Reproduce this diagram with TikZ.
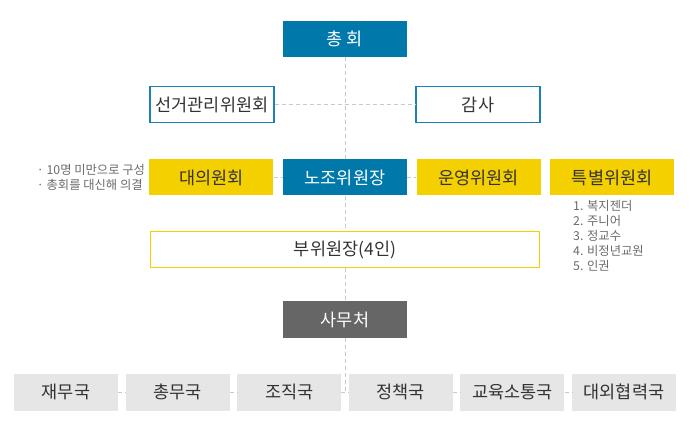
\documentclass[tikz,border=0pt]{standalone}
\usepackage{fontspec}
\setmainfont{Noto Sans CJK KR}
\usetikzlibrary{positioning, math}

\definecolor{unionBlue}{HTML}{0078AA}
\definecolor{lineBlue}{HTML}{1A80B6}
\definecolor{unionYellow}{HTML}{F5D000}
\definecolor{deptGray}{HTML}{E6E6E6}
\definecolor{officeGray}{HTML}{666666}
\definecolor{dashGray}{HTML}{C8C8C8}
\definecolor{textDark}{HTML}{333333}
\definecolor{noteGray}{HTML}{6A6A6A}

\begin{document}
\begin{tikzpicture}[
		x=1pt, y=-1pt,
		every node/.style={inner sep=0pt},
		Link/.style={
			draw=dashGray,
			dash pattern=on 4pt off 3pt,
			line width=0.9pt
		}
	]
	\tikzmath{
		\nodeW   = 124;   %box width
		\nodeH   = 36;    %box height
		\deptW   = 104;   %department box width
		\colGap  = 9.2;   %gap in the committee row
		\deptGap = 7.2;   %gap in the department row
	}
	\tikzstyle{Node} = [
		minimum width=\nodeW pt,
		minimum height=\nodeH pt,
		text centered,
		text=textDark,
		font=\fontsize{17.5}{20}\selectfont
	]
	\tikzstyle{Blue} = [fill=unionBlue, text=white]
	\tikzstyle{BlueLine} = [fill=white, draw=lineBlue, line width=1.3pt]
	\tikzstyle{Yellow} = [fill=unionYellow]
	\tikzstyle{YellowLine} = [fill=white, draw=unionYellow, line width=1.3pt]
	\tikzstyle{Dept} = [Node, minimum width=\deptW pt, minimum height=36.5pt, fill=deptGray]
	\tikzstyle{Note} = [align=left, text=noteGray, font=\fontsize{12.3}{15.2}\selectfont]

	\useasboundingbox (0,0) rectangle (690,435);

	% main column
	\node (gm) [Node, Blue] at (345,39) {총 회};
	\node (elect) [Node, BlueLine] at (212,104.5) {선거관리위원회};
	\node (audit) [Node, BlueLine] at (478,104.5) {감사};
	\node (chair) [Node, Blue] at (345,177.5) {노조위원장};
	\node (rep) [Node, Yellow, left=\colGap pt of chair] {대의원회};
	\node (oper) [Node, Yellow, right=\colGap pt of chair] {운영위원회};
	\node (spec) [Node, Yellow, right=\colGap pt of oper] {특별위원회};
	\node (vice) [Node, YellowLine, minimum width=389pt] at (345,249.5) {부위원장(4인)};
	\node (office) [Node, fill=officeGray, text=white] at (345,319.5) {사무처};

	% departments
	\node (d1) [Dept] at (66,392.3) {재무국};
	\node (d2) [Dept, right=\deptGap pt of d1] {총무국};
	\node (d3) [Dept, right=\deptGap pt of d2] {조직국};
	\node (d4) [Dept, right=\deptGap pt of d3] {정책국};
	\node (d5) [Dept, right=\deptGap pt of d4] {교육소통국};
	\node (d6) [Dept, right=\deptGap pt of d5] {대외협력국};
	\coordinate (hub) at (office |- d1);

	% notes
	\node (repNote) [Note, left=4pt of rep] {· 10명 미만으로 구성\\· 총회를 대신해 의결};
	\node (specList) [Note, below right=4pt and 23pt of spec.south west] {1. 복지젠더\\2. 주니어\\3. 정교수\\4. 비정년교원\\5. 인권};

	% dashed connectors
	\draw [Link] (gm) -- (chair);
	\draw [Link] (chair) -- (vice);
	\draw [Link] (vice) -- (office);
	\draw [Link] (office) -- (hub);
	\draw [Link] (elect) -- (audit);
	\draw [Link] (rep) -- (chair);
	\draw [Link] (chair) -- (oper);
	\foreach \a/\b in {d1/d2, d2/d3, d3/d4, d4/d5, d5/d6}
		\draw [Link] (\a) -- (\b);
\end{tikzpicture}
\end{document}
